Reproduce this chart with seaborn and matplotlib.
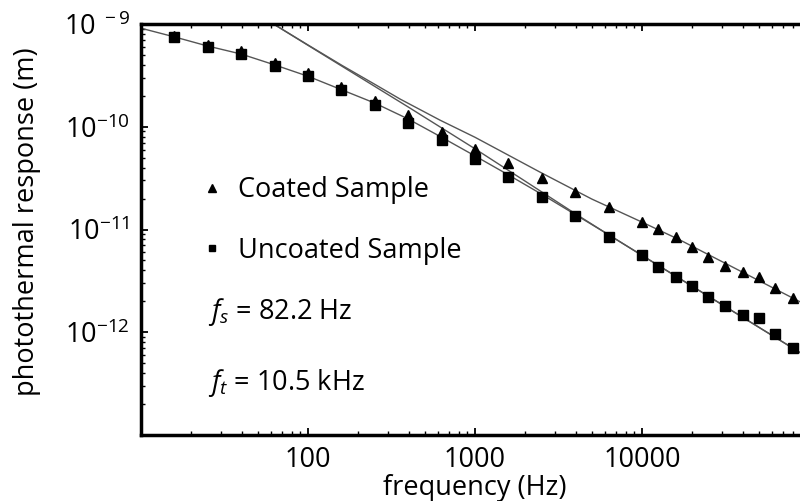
import numpy as np
import pandas as pd
import matplotlib
matplotlib.use('Agg')
import matplotlib.pyplot as plt
import seaborn as sns
from matplotlib.ticker import FixedLocator, FixedFormatter, LogLocator, NullFormatter

freq = [15.8, 25.1, 39.8, 63.1, 100, 158, 251, 398, 631, 1000, 1585, 2512,
        3981, 6310, 10000, 12500, 16000, 20000, 25000, 31500, 40000, 50000,
        63000, 80000]
coated = [7.6e-10, 6.2e-10, 5.4e-10, 4.2e-10, 3.35e-10, 2.45e-10, 1.78e-10,
          1.30e-10, 8.95e-11, 6.07e-11, 4.41e-11, 3.15e-11, 2.33e-11, 1.67e-11,
          1.19e-11, 1.01e-11, 8.39e-12, 6.8e-12, 5.44e-12, 4.41e-12, 3.88e-12,
          3.42e-12, 2.71e-12, 2.17e-12]
uncoated = [7.4e-10, 6.0e-10, 5.07e-10, 3.93e-10, 3.12e-10, 2.28e-10, 1.63e-10,
            1.09e-10, 7.43e-11, 4.82e-11, 3.27e-11, 2.09e-11, 1.36e-11, 8.5e-12,
            5.65e-12, 4.29e-12, 3.47e-12, 2.82e-12, 2.22e-12, 1.81e-12, 1.47e-12,
            1.37e-12, 9.62e-13, 6.98e-13]

# model curves
fit_low_f = [10, 15.8, 25.1, 39.8, 63.1, 100, 158, 251, 398, 631, 1000, 1585,
             2512, 3981, 6310, 10000, 20000, 50000, 100000]
fit_low_y = [9.1e-10, 7.5e-10, 6.1e-10, 5.1e-10, 4.0e-10, 3.1e-10, 2.3e-10,
             1.7e-10, 1.19e-10, 7.9e-11, 5.2e-11, 3.4e-11, 2.2e-11, 1.4e-11,
             8.9e-12, 5.6e-12, 2.8e-12, 1.12e-12, 5.6e-13]
fit_unc_f = [55, 100, 200, 400, 1000, 2000, 4000, 6300, 10000, 20000, 50000, 100000]
fit_unc_y = [1.13e-9, 6.2e-10, 3.1e-10, 1.55e-10, 6.1e-11, 2.95e-11, 1.42e-11,
             8.9e-12, 5.6e-12, 2.8e-12, 1.12e-12, 5.6e-13]
fit_coat_f = [55, 100, 160, 250, 356, 617, 1000, 2449, 5000, 10000, 16900, 88300, 100000]
fit_coat_y = [1.13e-9, 6.25e-10, 3.95e-10, 2.6e-10, 1.86e-10, 1.16e-10, 7.9e-11,
              3.62e-11, 1.98e-11, 1.18e-11, 7.9e-12, 1.98e-12, 1.78e-12]

sns.set_style('ticks')
plt.rcParams['font.family'] = ['Open Sans', 'DejaVu Sans']
plt.rcParams['mathtext.fontset'] = 'custom'
plt.rcParams['mathtext.rm'] = 'Open Sans'
plt.rcParams['mathtext.it'] = 'Open Sans:italic'
plt.rcParams['text.color'] = 'black'
plt.rcParams['axes.labelcolor'] = 'black'

FS = 19.5
fig = plt.figure(figsize=(8, 5.01), dpi=100)
ax = fig.add_axes([141 / 800, 66 / 501, 668 / 800, 411 / 501])

line_kw = dict(color='#555555', linewidth=1.0, estimator=None, sort=False,
               legend=False, ax=ax)
sns.lineplot(x=fit_low_f, y=fit_low_y, **line_kw)
sns.lineplot(x=fit_unc_f, y=fit_unc_y, **line_kw)
sns.lineplot(x=fit_coat_f, y=fit_coat_y, **line_kw)

df = pd.DataFrame({'freq': freq, 'coated': coated, 'uncoated': uncoated})
ax.plot(df['freq'], df['coated'], '^', color='black', ms=7.5,
        label='Coated Sample', zorder=3)
ax.plot(df['freq'], df['uncoated'], 's', color='black', ms=6.5,
        label='Uncoated Sample', zorder=4)

ax.set_xscale('log')
ax.set_yscale('log')
ax.set_xlim(10, 1e5)
ax.set_ylim(1e-13, 1e-9)

ax.xaxis.set_major_locator(FixedLocator([100, 1000, 10000]))
ax.xaxis.set_major_formatter(FixedFormatter(['100', '1000', '10000']))
ax.xaxis.set_minor_locator(LogLocator(base=10, subs=np.arange(2, 10)))
ax.xaxis.set_minor_formatter(NullFormatter())
ax.yaxis.set_major_locator(FixedLocator([1e-12, 1e-11, 1e-10, 1e-9]))
ax.yaxis.set_major_formatter(FixedFormatter([
    r'$\mathregular{10^{-12}}$', r'$\mathregular{10^{-11}}$',
    r'$\mathregular{10^{-10}}$', r'$\mathregular{10^{\ -9}}$']))
ax.yaxis.set_minor_locator(LogLocator(base=10, subs=np.arange(2, 10)))
ax.yaxis.set_minor_formatter(NullFormatter())

ax.tick_params(which='both', direction='in', top=True, right=True,
               colors='black', labelsize=FS)
ax.tick_params(which='major', length=5, width=1.3, pad=8)
ax.tick_params(which='minor', length=3, width=1.0)
for s in ax.spines.values():
    s.set_linewidth(2.5)
    s.set_color('black')

ax.set_xlabel('frequency (Hz)', fontsize=FS, labelpad=0)
ax.set_ylabel('photothermal response (m)', fontsize=FS)
ax.yaxis.set_label_coords(-0.15, 0.52)

ax.legend(loc='center left', bbox_to_anchor=(0.09, 0.522), frameon=False,
          fontsize=FS, markerscale=0.7, handlelength=0.8, handletextpad=0.55,
          borderpad=0, borderaxespad=0, labelspacing=1.2)

ax.text(0.1, 0.299, r'$f_s$ = 82.2 Hz', transform=ax.transAxes,
        fontsize=FS, va='center', ha='left')
ax.text(0.1, 0.1265, r'$f_t$ = 10.5 kHz', transform=ax.transAxes,
        fontsize=FS, va='center', ha='left')

fig.savefig('out.png', dpi=100)
